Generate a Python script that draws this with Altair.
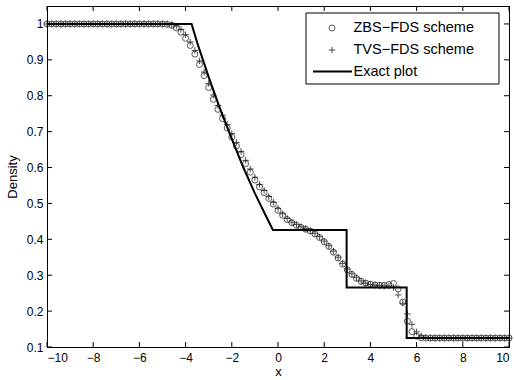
import altair as alt
import pandas as pd

# ---------------- data ----------------
x_vals = [-10.0, -9.8, -9.6, -9.4, -9.2, -9.0, -8.8, -8.6, -8.4, -8.2,
          -8.0, -7.8, -7.6, -7.4, -7.2, -7.0, -6.8, -6.6, -6.4, -6.2,
          -6.0, -5.8, -5.6, -5.4, -5.2, -5.0, -4.8, -4.6, -4.4, -4.2,
          -4.0, -3.8, -3.6, -3.4, -3.2, -3.0, -2.8, -2.6, -2.4, -2.2,
          -2.0, -1.8, -1.6, -1.4, -1.2, -1.0, -0.8, -0.6, -0.4, -0.2,
          0.0, 0.2, 0.4, 0.6, 0.8, 1.0, 1.2, 1.4, 1.6, 1.8,
          2.0, 2.2, 2.4, 2.6, 2.8, 3.0, 3.2, 3.4, 3.6, 3.8,
          4.0, 4.2, 4.4, 4.6, 4.8, 5.0, 5.2, 5.4, 5.6, 5.8,
          6.0, 6.2, 6.4, 6.6, 6.8, 7.0, 7.2, 7.4, 7.6, 7.8,
          8.0, 8.2, 8.4, 8.6, 8.8, 9.0, 9.2, 9.4, 9.6, 9.8, 10.0]

zbs = [1.0, 1.0, 1.0, 1.0, 1.0, 1.0, 1.0, 1.0, 1.0, 1.0,
       1.0, 1.0, 1.0, 1.0, 1.0, 1.0, 1.0, 1.0, 1.0, 1.0,
       1.0, 1.0, 1.0, 1.0, 1.0, 1.0, 0.999, 0.996, 0.989, 0.977,
       0.960, 0.940, 0.916, 0.887, 0.856, 0.823, 0.790, 0.762, 0.736, 0.710,
       0.685, 0.660, 0.636, 0.611, 0.587, 0.565, 0.546, 0.530, 0.514, 0.498,
       0.481, 0.467, 0.455, 0.446, 0.439, 0.433, 0.428, 0.423, 0.415, 0.405,
       0.393, 0.380, 0.364, 0.348, 0.331, 0.315, 0.302, 0.291, 0.283, 0.278,
       0.275, 0.273, 0.272, 0.272, 0.274, 0.277, 0.262, 0.225, 0.172, 0.143,
       0.130, 0.126, 0.125, 0.125, 0.125, 0.125, 0.125, 0.125, 0.125, 0.125,
       0.125, 0.125, 0.125, 0.125, 0.125, 0.125, 0.125, 0.125, 0.125, 0.125, 0.125]

tvs = [1.0, 1.0, 1.0, 1.0, 1.0, 1.0, 1.0, 1.0, 1.0, 1.0,
       1.0, 1.0, 1.0, 1.0, 1.0, 1.0, 1.0, 1.0, 1.0, 1.0,
       1.0, 1.0, 1.0, 1.0, 1.0, 1.0, 1.0, 0.998, 0.994, 0.985,
       0.970, 0.950, 0.926, 0.897, 0.866, 0.834, 0.802, 0.773, 0.746, 0.720,
       0.695, 0.670, 0.645, 0.620, 0.596, 0.573, 0.553, 0.536, 0.519, 0.503,
       0.486, 0.471, 0.458, 0.448, 0.441, 0.435, 0.430, 0.424, 0.417, 0.407,
       0.395, 0.382, 0.367, 0.350, 0.333, 0.317, 0.304, 0.293, 0.284, 0.278,
       0.274, 0.272, 0.271, 0.270, 0.270, 0.266, 0.245, 0.222, 0.192, 0.163,
       0.142, 0.131, 0.127, 0.125, 0.125, 0.125, 0.125, 0.125, 0.125, 0.125,
       0.125, 0.125, 0.125, 0.125, 0.125, 0.125, 0.125, 0.125, 0.125, 0.125, 0.125]

exact_x = [-10.0, -3.74, -3.5, -3.0, -2.5, -2.0, -1.5, -1.0, -0.5, -0.22,
           2.97, 2.97, 5.57, 5.57, 10.0]
exact_y = [1.0, 1.0, 0.948, 0.852, 0.762, 0.680, 0.600, 0.528, 0.462, 0.426,
           0.426, 0.266, 0.266, 0.125, 0.125]

x_ticks = [-10, -8, -6, -4, -2, 0, 2, 4, 6, 8, 10]
y_ticks = [0.1, 0.2, 0.3, 0.4, 0.5, 0.6, 0.7, 0.8, 0.9, 1.0]

legend_labels = ["ZBS\u2212FDS scheme", "TVS\u2212FDS scheme", "Exact plot"]

# ---------------- chart ----------------
W, H = 462, 341
FONT = "Liberation Sans"
PLUS = "M-1,0L1,0M0,-1L0,1"

df = pd.DataFrame({"x": x_vals, "zbs": zbs, "tvs": tvs})
ex = pd.DataFrame({"x": exact_x, "y": exact_y, "k": list(range(len(exact_x)))})

xscale = alt.Scale(domain=[-10, 10], nice=False, zero=False)
yscale = alt.Scale(domain=[0.1, 1.05], nice=False, zero=False)

xaxis = alt.Axis(values=x_ticks, format="d", title="x", tickSize=0,
                 labelPadding=5, titlePadding=2, grid=False)
yaxis = alt.Axis(values=y_ticks, format=".1~f", title="Density", tickSize=0,
                 labelPadding=4, grid=False, titleAngle=-90,
                 titleX=-31, titleY=H / 2, titleBaseline="alphabetic")

X = alt.X("x:Q", scale=xscale, axis=xaxis, title="x")

zbs_layer = alt.Chart(df).mark_point(
    shape="circle", filled=False, size=36, color="#111111", strokeWidth=1
).encode(x=X, y=alt.Y("zbs:Q", scale=yscale, axis=yaxis, title="Density"))

tvs_layer = alt.Chart(df).mark_point(
    shape=PLUS, filled=False, size=42, color="#000000", strokeWidth=1
).encode(x=X, y=alt.Y("tvs:Q", scale=yscale, axis=yaxis, title="Density"))

exact_layer = alt.Chart(ex).mark_line(color="black", strokeWidth=2).encode(
    x=X, y=alt.Y("y:Q", scale=yscale, axis=yaxis, title="Density"), order="k:Q"
)

xt = pd.DataFrame({"t": x_ticks})
yt = pd.DataFrame({"t": y_ticks})
tx = alt.X("t:Q", scale=xscale, axis=xaxis, title="x")
ty = alt.Y("t:Q", scale=yscale, axis=yaxis, title="Density")
tick_bottom = alt.Chart(xt).mark_rule(color="black", strokeWidth=1).encode(
    x=tx, y=alt.value(H), y2=alt.value(H - 5))
tick_top = alt.Chart(xt).mark_rule(color="black", strokeWidth=1).encode(
    x=tx, y=alt.value(0), y2=alt.value(5))
tick_left = alt.Chart(yt).mark_rule(color="black", strokeWidth=1).encode(
    y=ty, x=alt.value(0), x2=alt.value(5))
tick_right = alt.Chart(yt).mark_rule(color="black", strokeWidth=1).encode(
    y=ty, x=alt.value(W), x2=alt.value(W - 5))

# legend (drawn by hand to match the boxed MATLAB legend)
one = pd.DataFrame({"label": legend_labels})
leg_box = alt.Chart(one.head(1)).mark_rect(
    fill="white", stroke="black", strokeWidth=1
).encode(x=alt.value(259), x2=alt.value(452), y=alt.value(7), y2=alt.value(78))
leg_circle = alt.Chart(one.head(1)).mark_point(
    shape="circle", filled=False, size=36, color="#111111", strokeWidth=1
).encode(x=alt.value(285), y=alt.value(22))
leg_plus = alt.Chart(one.head(1)).mark_point(
    shape=PLUS, filled=False, size=42, color="#000000", strokeWidth=1
).encode(x=alt.value(285), y=alt.value(44))
leg_line = alt.Chart(one.head(1)).mark_rule(color="black", strokeWidth=2).encode(
    x=alt.value(266), x2=alt.value(305), y=alt.value(65.5))


def leg_text(i, ypos):
    return alt.Chart(one.iloc[[i]]).mark_text(
        align="left", baseline="middle", font=FONT, fontSize=14.5, color="black"
    ).encode(x=alt.value(306.5), y=alt.value(ypos), text="label:N")


chart = alt.layer(
    exact_layer, zbs_layer, tvs_layer,
    tick_bottom, tick_top, tick_left, tick_right,
    leg_box, leg_circle, leg_plus, leg_line,
    leg_text(0, 22), leg_text(1, 44), leg_text(2, 65.5),
).properties(
    width=W, height=H,
    autosize=alt.AutoSizeParams(type="none"),
    padding={"left": 47, "top": 6, "right": 6, "bottom": 33},
    background="white",
).configure_view(
    stroke="black", strokeWidth=1
).configure_axis(
    labelFont=FONT, labelFontSize=12, labelColor="black",
    titleFont=FONT, titleFontSize=13, titleFontWeight="normal", titleColor="black",
    domainColor="black", domainWidth=1,
)

chart.save("out.html", embed_options={"renderer": "svg", "actions": False})
